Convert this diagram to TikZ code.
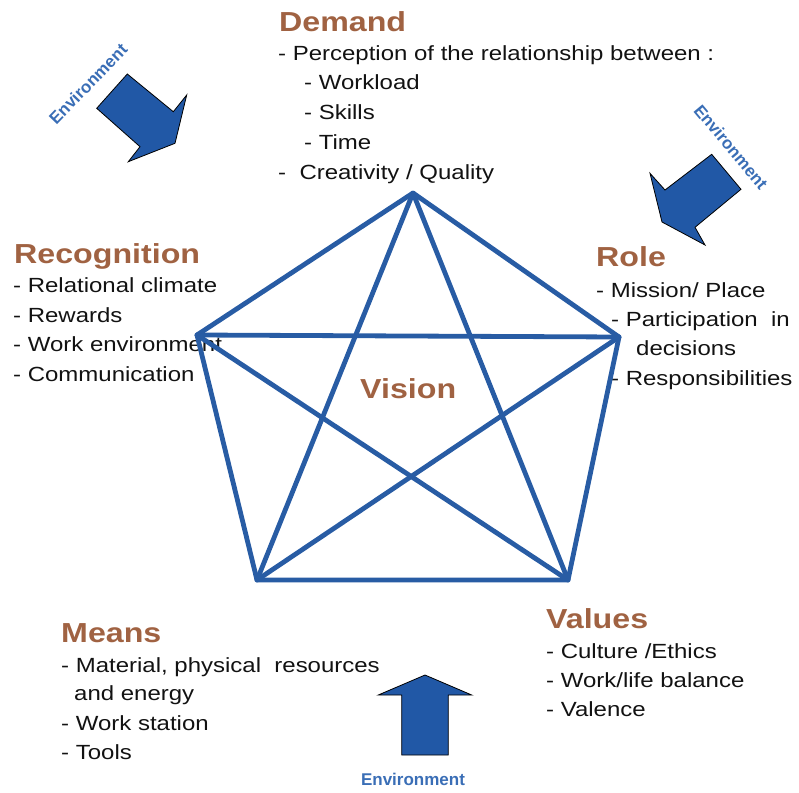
\documentclass[tikz,border=0pt]{standalone}
\usepackage{fontspec}
\setmainfont{Liberation Sans}[FakeStretch=1.17]
\newfontfamily\envfont{Liberation Sans}
\definecolor{linec}{RGB}{40,92,164}
\definecolor{arrowc}{RGB}{33,88,166}
\definecolor{envc}{RGB}{58,110,182}
\definecolor{brownc}{RGB}{160,98,66}
\definecolor{textc}{RGB}{18,18,18}
\begin{document}
\begin{tikzpicture}[x=1pt,y=-1pt,
  body/.style={anchor=base west, inner sep=0pt, font=\fontsize{20.5}{29}\selectfont, text=textc},
  ttl/.style={anchor=base west, inner sep=0pt, font=\fontsize{27.5}{33}\bfseries\selectfont, text=brownc},
  env/.style={inner sep=0pt, font=\envfont\fontsize{17}{20}\bfseries\selectfont, text=envc},
  edgeline/.style={draw=linec, line width=4.8pt, line join=round, line cap=round},
  barrow/.style={fill=arrowc, draw=black, line width=0.8pt, line join=miter}]
\useasboundingbox (0,0) rectangle (799,792);

% Demand
\node[ttl] (dem) at (279,32) {Demand};
\node[body] (d1) at (278,60) {- Perception of the relationship between :};
\node[body] (d2) at (304,89.5) {- Workload};
\node[body] (d3) at (304,119.5) {- Skills};
\node[body] (d4) at (304,149) {- Time};
\node[body] (d5) at (278,179) {-\ \ Creativity / Quality};

% Recognition
\node[ttl] (rec) at (14,263) {Recognition};
\node[body] (r1) at (13,292.5) {- Relational climate};
\node[body] (r2) at (13,322) {- Rewards};
\node[body] (r3) at (13,351.5) {- Work environment};
\node[body] (r4) at (13,381) {- Communication};

% Role
\node[ttl] (rol) at (596,266) {Role};
\node[body] (o1) at (596,297) {- Mission/ Place};
\node[body] (o2) at (611,326) {- Participation\ \ in};
\node[body] (o3) at (636,355.5) {decisions};
\node[body] (o4) at (611,385) {- Responsibilities};

% Means
\node[ttl] (mea) at (61,642) {Means};
\node[body] (m1) at (61,672) {- Material, physical\ \ resources};
\node[body] (m2) at (74,700.5) {and energy};
\node[body] (m3) at (61,730.5) {- Work station};
\node[body] (m4) at (61,759.5) {- Tools};

% Values
\node[ttl] (val) at (546,628) {Values};
\node[body] (v1) at (546,658) {- Culture /Ethics};
\node[body] (v2) at (546,687) {- Work/life balance};
\node[body] (v3) at (546,716.5) {- Valence};

% Vision
\node[ttl] (vis) at (360,398) {Vision};

% pentagon vertices
\coordinate (T) at (413,193);
\coordinate (L) at (197,335);
\coordinate (R) at (619,337);
\coordinate (BL) at (257,580);
\coordinate (BR) at (568,580);

\draw[edgeline] (T) -- (R) -- (BR) -- (BL) -- (L) -- cycle;
\draw[edgeline] (T) -- (BL);
\draw[edgeline] (T) -- (BR);
\draw[edgeline] (L) -- (R);
\draw[edgeline] (L) -- (BR);
\draw[edgeline] (R) -- (BL);

% environment arrows
\draw[barrow] (127.3,74) -- (173.3,111.7) -- (186.7,95) -- (175,143.3) -- (128.3,161.7) -- (140,146.7) -- (96.7,108.3) -- cycle;
\draw[barrow] (711.7,154.3) -- (741,189.3) -- (695,227.3) -- (705,245) -- (662,222) -- (650,173.3) -- (665,190) -- cycle;
\draw[barrow] (401.7,695) -- (378.3,695) -- (425,675) -- (471.7,695) -- (448.3,695) -- (448.3,755) -- (401.7,755) -- cycle;

\node[env, rotate=46] (e1) at (88,84) {Environment};
\node[env, rotate=-50] (e2) at (731,147) {Environment};
\node[env] (e3) at (413,779) {Environment};
\end{tikzpicture}
\end{document}
